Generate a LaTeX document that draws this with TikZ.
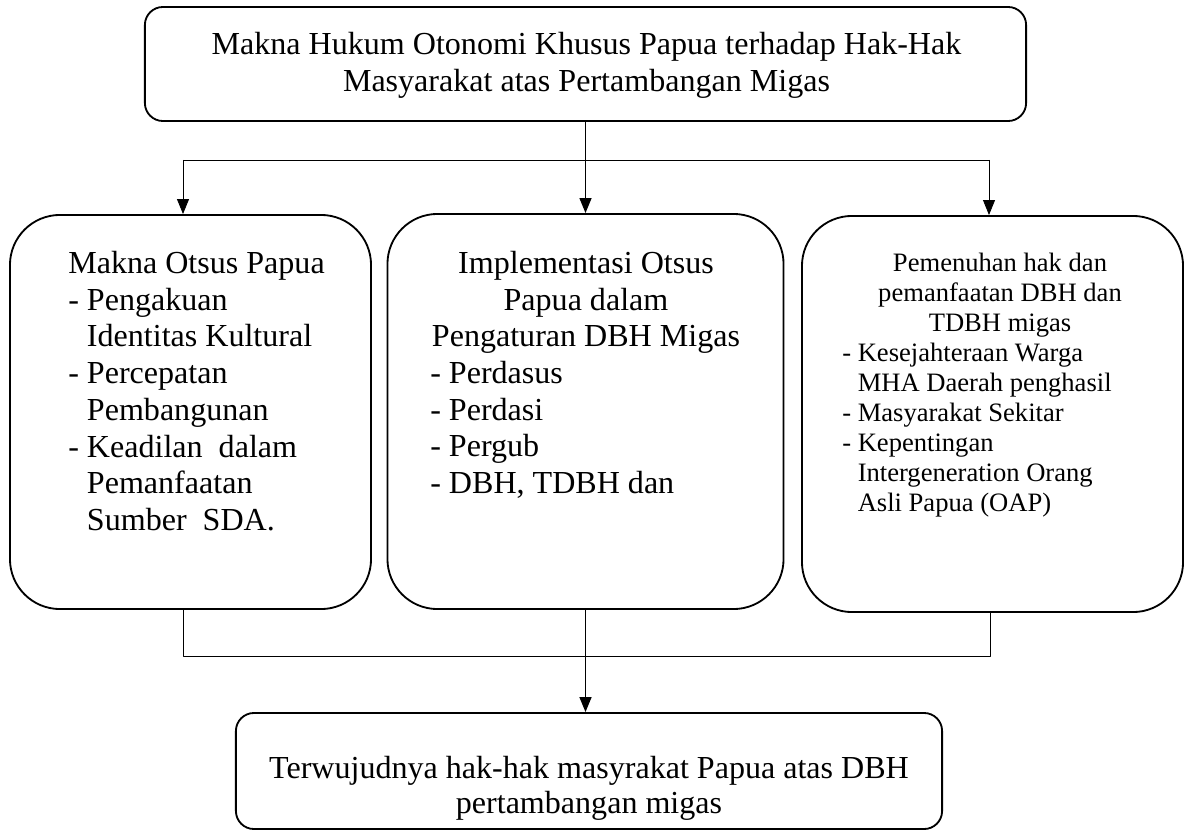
\documentclass[tikz,border=0pt]{standalone}
\usepackage{fontspec}
\setmainfont{Liberation Serif}
\usetikzlibrary{arrows.meta}
\newcommand{\hurufbesar}{\fontsize{22.8pt}{26.1pt}\selectfont}
\newcommand{\hurufkecil}{\fontsize{18.9pt}{21.3pt}\selectfont}
\newcommand{\sambung}{\hphantom{-}}

\begin{document}
\begin{tikzpicture}[x=0.025cm,y=-0.025cm,>={Triangle[length=3.75mm,width=3mm]},line join=round,
  kotak/.style={draw,line width=1.3pt,rounded corners=0.45cm,inner sep=0pt},
  kotakbesar/.style={kotak,rounded corners=1.25cm},
  teks/.style={inner sep=0pt,font=\hurufbesar},
  tipis/.style={line width=0.6pt},
  tebal/.style={line width=1pt}]
\useasboundingbox (0,0) rectangle (1189,834);
% kotak-kotak
\node[kotak,minimum width=22.025cm,minimum height=2.85cm] (judul) at (585.5,64) {};
\node[kotakbesar,minimum width=9.025cm,minimum height=9.85cm] (otsus) at (190.5,412) {};
\node[kotakbesar,minimum width=9.9cm,minimum height=9.875cm] (impl) at (585.5,411.5) {};
\node[kotakbesar,minimum width=9.525cm,minimum height=9.9cm] (hak) at (992.5,414) {};
\node[kotak,minimum width=17.65cm,minimum height=2.9cm] (hasil) at (589,771) {};
% isi teks
\node[teks,anchor=north,align=center] (judulteks) at (586.5,32)
  {Makna Hukum Otonomi Khusus Papua terhadap Hak-Hak\\Masyarakat atas Pertambangan Migas};
\node[teks,anchor=north west,align=left] (otsusteks) at (68,251)
  {Makna Otsus Papua\\- Pengakuan\\\sambung{} Identitas Kultural\\- Percepatan\\\sambung{} Pembangunan\\
   - Keadilan~ dalam\\\sambung{} Pemanfaatan\\\sambung{} Sumber~ SDA.};
\node[teks,anchor=north,align=center] (implkepala) at (586,251)
  {Implementasi Otsus\\Papua dalam\\Pengaturan DBH Migas};
\node[teks,anchor=north west,align=left] (impldaftar) at (430,361)
  {- Perdasus\\- Perdasi\\- Pergub\\- DBH, TDBH dan};
\node[teks,font=\hurufkecil,anchor=north,align=center] (hakkepala) at (1000,253)
  {Pemenuhan hak dan\\pemanfaatan DBH dan\\TDBH migas};
\node[teks,font=\hurufkecil,anchor=north west,align=left] (hakdaftar) at (842,343)
  {- Kesejahteraan Warga\\\sambung{} MHA Daerah penghasil\\- Masyarakat Sekitar\\- Kepentingan\\
   \sambung{} Intergeneration Orang\\\sambung{} Asli Papua (OAP)};
\node[teks,font=\fontsize{22.8pt}{24.9pt}\selectfont,anchor=north,align=center] (hasilteks) at (589,756)
  {Terwujudnya hak-hak masyrakat Papua atas DBH\\pertambangan migas};
% panah atas
\coordinate (kiri) at (183,160);
\coordinate (kanan) at (989,160);
\draw[tebal,->] (judul.south) -- (impl.north);
\draw[tipis] (kiri) -- (kanan);
\draw[tipis,->] (kiri) -- (kiri |- otsus.north);
\draw[tipis,->] (kanan) -- (kanan |- hak.north);
% panah bawah
\coordinate (gabungkiri) at (183,656);
\coordinate (gabungkanan) at (990,656);
\draw[tipis] (gabungkiri |- otsus.south) -- (gabungkiri) -- (gabungkanan) -- (gabungkanan |- hak.south);
\draw[tebal,->] (impl.south) -- (impl.south |- hasil.north);
\end{tikzpicture}
\end{document}
